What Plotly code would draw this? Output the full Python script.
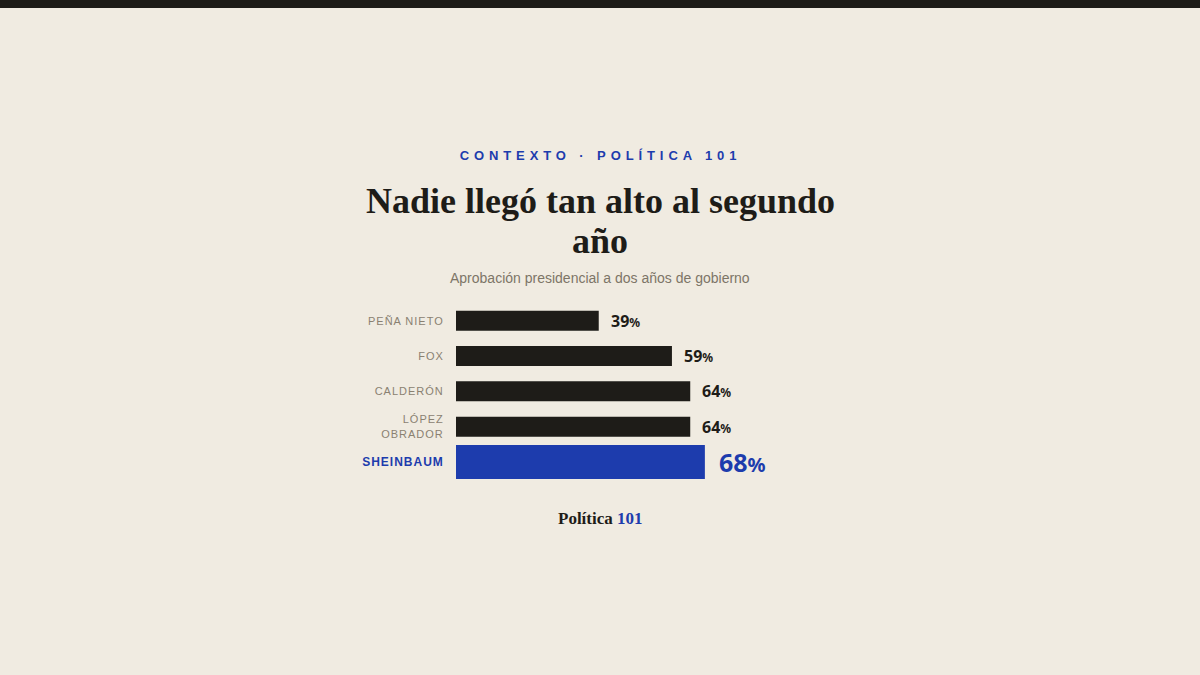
import plotly.graph_objects as go

# Aprobación a los dos años de gobierno
presidentes = ["Peña Nieto", "Fox", "Calderón", "López Obrador", "Sheinbaum"]
etiquetas = ["PEÑA NIETO", "FOX", "CALDERÓN", "LÓPEZ<br>OBRADOR", "SHEINBAUM"]
aprobacion = [39, 59, 64, 64, 68]

BG = "#f0ebe1"
DARK = "#1e1c18"
BLUE = "#1d3cad"
GREY = "#8a8171"

W, H = 1200, 675
# plot area in pixels
L, R, T, B = 456, 822, 303, 481


def px(x):
    return (x - L) / (R - L)


def py(y):
    return (B - y) / (B - T)


destacado = [p == "Sheinbaum" for p in presidentes]
colores = [BLUE if d else DARK for d in destacado]
grosor = [0.96 if d else 0.565 for d in destacado]

ticktext = []
for lab, d in zip(etiquetas, destacado):
    if d:
        ticktext.append(f"<b><span style='color:{BLUE};font-size:12px'>{lab}</span></b>")
    else:
        ticktext.append(lab)

fig = go.Figure(go.Bar(
    x=aprobacion,
    y=presidentes,
    orientation="h",
    marker=dict(color=colores, line=dict(width=0)),
    width=grosor,
    hoverinfo="skip",
))

annotations = []
for p, v, d in zip(presidentes, aprobacion, destacado):
    if d:
        txt = f"{v}<span style='font-size:20px'>%</span>"
        font = dict(family="Noto Sans", size=25, color=BLUE, weight=700)
        shift = 12
    else:
        txt = f"{v}<span style='font-size:12px'>%</span>"
        font = dict(family="Noto Sans", size=16, color=DARK, weight=700)
        shift = 10
    annotations.append(dict(
        x=v, y=p, xref="x", yref="y", text=txt, showarrow=False,
        xanchor="left", yanchor="middle", xshift=shift, font=font,
    ))

# textos de cabecera y pie
cabecera = [
    dict(x=px(600), y=py(155), text="CONTEXTO · POLÍTICA 101",
         font=dict(family="Liberation Sans", size=13, color=BLUE, weight=700)),
    dict(x=px(600), y=py(201), text="Nadie llegó tan alto al segundo",
         font=dict(family="Liberation Serif", size=36, color=DARK, weight=700)),
    dict(x=px(600), y=py(241), text="año",
         font=dict(family="Liberation Serif", size=36, color=DARK, weight=700)),
    dict(x=px(600), y=py(278), text="Aprobación presidencial a dos años de gobierno",
         font=dict(family="Liberation Sans", size=14, color="#7d7567")),
    dict(x=px(600), y=py(518),
         text=f"Política <span style='color:{BLUE}'>101</span>",
         font=dict(family="Liberation Serif", size=17, color=DARK, weight=700)),
]
for a in cabecera:
    a.update(xref="paper", yref="paper", showarrow=False,
             xanchor="center", yanchor="middle")
annotations += cabecera

fig.update_layout(
    width=W, height=H,
    margin=dict(l=L, r=W - R, t=T, b=H - B, pad=0),
    paper_bgcolor=BG, plot_bgcolor=BG,
    showlegend=False,
    annotations=annotations,
    shapes=[dict(type="rect", xref="paper", yref="paper",
                 x0=px(0), x1=px(W), y0=py(8), y1=py(0),
                 fillcolor=DARK, line=dict(width=0), layer="above")],
    xaxis=dict(range=[0, 100], visible=False, fixedrange=True),
    yaxis=dict(
        categoryorder="array", categoryarray=presidentes,
        autorange="reversed",
        tickmode="array", tickvals=presidentes, ticktext=ticktext,
        ticks="outside", ticklen=9, tickcolor="rgba(0,0,0,0)",
        showgrid=False, zeroline=False, showline=False,
        tickfont=dict(family="Liberation Sans", size=11, color=GREY),
        fixedrange=True,
    ),
)

# page margin off, letter-spacing for kicker and category labels
post = """
document.body.style.margin = '0';
var gd = document.getElementById('{plot_id}');
gd.querySelectorAll('text').forEach(function(t){
  if (t.textContent.indexOf('CONTEXTO') === 0) { t.style.letterSpacing = '4.9px'; }
});
gd.querySelectorAll('.ytick text').forEach(function(t){
  t.style.letterSpacing = '1.0px';
});
"""

fig.write_html("out.html", config={"displayModeBar": False}, post_script=post)
